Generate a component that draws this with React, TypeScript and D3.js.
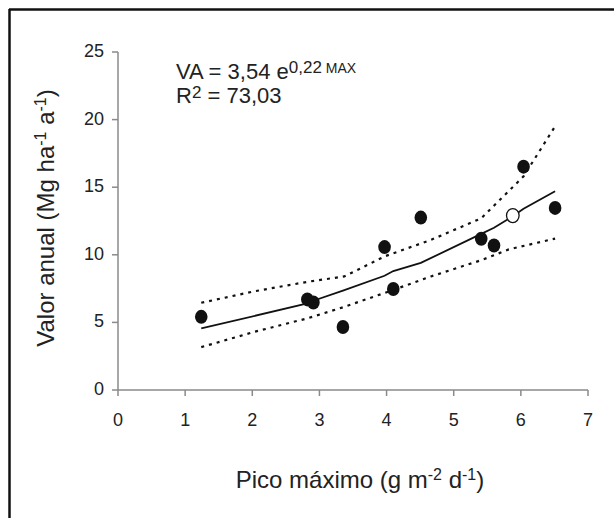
import React from "react";
import * as d3 from "d3";

const xTicks = [0, 1, 2, 3, 4, 5, 6, 7];
const yTicks = [0, 5, 10, 15, 20, 25];

const obsX = [1.24, 2.82, 2.91, 3.35, 3.97, 4.10, 4.51, 5.41, 5.60, 6.04, 6.51];
const obsY = [5.41, 6.70, 6.47, 4.66, 10.57, 7.47, 12.75, 11.19, 10.69, 16.52, 13.47];
const openX = [5.88];
const openY = [12.9];

const fitX = [1.24, 2.82, 2.91, 3.35, 3.97, 4.10, 4.51, 5.41, 5.60, 5.88, 6.04, 6.51];
const fitY = [4.55, 6.4, 6.6, 7.35, 8.45, 8.8, 9.4, 11.55, 12.0, 12.85, 13.4, 14.7];

const upX = [1.24, 2.03, 2.82, 3.37, 3.98, 4.66, 5.41, 6.04, 6.51];
const upY = [6.45, 7.3, 8.0, 8.4, 9.9, 11.1, 12.7, 15.8, 19.5];

const loX = [1.24, 2.03, 2.82, 3.37, 4.10, 4.66, 5.41, 5.82, 6.51];
const loY = [3.17, 4.3, 5.3, 6.15, 7.4, 8.4, 9.6, 10.4, 11.2];

export default function App() {
  const x = d3.scaleLinear().domain([0, 7]).range([118, 588]);
  const y = d3.scaleLinear().domain([0, 25]).range([390, 52]);
  const line = d3
    .line<[number, number]>()
    .x((d) => x(d[0]))
    .y((d) => y(d[1]));
  const zip = (a: number[], b: number[]) => a.map((v, i) => [v, b[i]] as [number, number]);
  const axisColor = "#8a8a8a";
  const font = "Liberation Sans, Arial, sans-serif";
  return (
    <svg
      width={614}
      height={518}
      style={{ position: "absolute", left: 0, top: 0, background: "#fff" }}
      fontFamily={font}
    >
      <rect x={0} y={0} width={614} height={518} fill="#fff" />
      <line x1={9.5} y1={9} x2={9.5} y2={518} stroke="#111" strokeWidth={2.5} />
      <line x1={9} y1={9.5} x2={614} y2={9.5} stroke="#111" strokeWidth={2.5} />

      {/* axes */}
      <line x1={x(0)} y1={y(0)} x2={x(7)} y2={y(0)} stroke={axisColor} strokeWidth={1.5} />
      <line x1={x(0)} y1={y(0)} x2={x(0)} y2={y(25)} stroke={axisColor} strokeWidth={1.5} />
      {xTicks.map((t) => (
        <g key={"xt" + t}>
          <line x1={x(t)} x2={x(t)} y1={y(0)} y2={y(0) + 6} stroke={axisColor} strokeWidth={1.5} />
          <text x={x(t)} y={426} textAnchor="middle" fontSize={18} fill="#222">
            {t}
          </text>
        </g>
      ))}
      {yTicks.map((t) => (
        <g key={"yt" + t}>
          <line x1={x(0) - 6} x2={x(0)} y1={y(t)} y2={y(t)} stroke={axisColor} strokeWidth={1.5} />
          <text x={104} y={y(t) + 5} textAnchor="end" fontSize={18} fill="#222">
            {t}
          </text>
        </g>
      ))}

      {/* confidence bands */}
      <path d={line(zip(upX, upY)) || ""} fill="none" stroke="#111" strokeWidth={2.2} strokeDasharray="3,5" />
      <path d={line(zip(loX, loY)) || ""} fill="none" stroke="#111" strokeWidth={2.2} strokeDasharray="3,5" />
      {/* fit */}
      <path d={line(zip(fitX, fitY)) || ""} fill="none" stroke="#111" strokeWidth={1.8} />

      {obsX.map((v, i) => (
        <ellipse key={"p" + i} cx={x(v)} cy={y(obsY[i])} rx={6.3} ry={7} fill="#111" />
      ))}
      {openX.map((v, i) => (
        <ellipse key={"o" + i} cx={x(v)} cy={y(openY[i])} rx={6.3} ry={7} fill="#fff" stroke="#111" strokeWidth={1.3} />
      ))}

      {/* equation */}
      <text x={176} y={79} fontSize={22} fill="#222">
        VA = 3,54 e
        <tspan dy={-6} fontSize={17}>0,22</tspan>
        <tspan fontSize={14}> MAX</tspan>
      </text>
      <text x={176} y={103} fontSize={22} fill="#222">
        R<tspan dy={-5} fontSize={17}>2</tspan>
        <tspan dy={5}> = 73,03</tspan>
      </text>

      {/* axis titles */}
      <text x={360} y={488} textAnchor="middle" fontSize={24} fill="#222">
        Pico máximo (g m<tspan dy={-8} fontSize={16}>-2</tspan>
        <tspan dy={8}> d</tspan>
        <tspan dy={-8} fontSize={16}>-1</tspan>
        <tspan dy={8}>)</tspan>
      </text>
      <text
        transform={`translate(54, 218) rotate(-90)`}
        textAnchor="middle"
        fontSize={24}
        fill="#222"
      >
        Valor anual (Mg ha<tspan dy={-8} fontSize={16}>-1</tspan>
        <tspan dy={8}> a</tspan>
        <tspan dy={-8} fontSize={16}>-1</tspan>
        <tspan dy={8}>)</tspan>
      </text>
    </svg>
  );
}
